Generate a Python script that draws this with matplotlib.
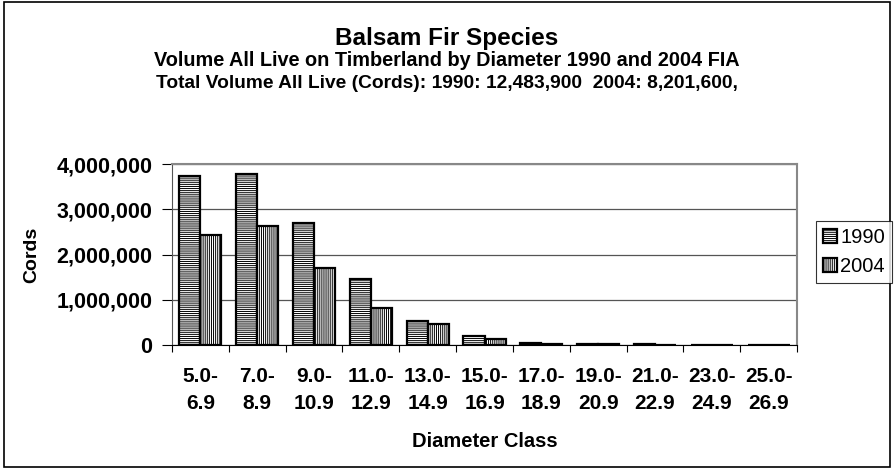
import matplotlib.pyplot as plt
import numpy as np
from matplotlib.patches import Rectangle

plt.rcParams['font.family'] = ['Liberation Sans', 'DejaVu Sans']
plt.rcParams['hatch.linewidth'] = 0.7

classes = ["5.0-\n6.9", "7.0-\n8.9", "9.0-\n10.9", "11.0-\n12.9", "13.0-\n14.9", "15.0-\n16.9",
           "17.0-\n18.9", "19.0-\n20.9", "21.0-\n22.9", "23.0-\n24.9", "25.0-\n26.9"]
vol_1990 = [3740000, 3780000, 2690000, 1460000, 520000, 190000, 50000, 30000, 15000, 0, 0]
vol_2004 = [2420000, 2620000, 1700000, 810000, 470000, 130000, 25000, 15000, 5000, 0, 0]
yticks = [0, 1000000, 2000000, 3000000, 4000000]

fig = plt.figure(figsize=(8.94, 4.7), dpi=100)
fig.patches.append(Rectangle((0.004, 0.006), 0.992, 0.99, transform=fig.transFigure,
                             fill=False, edgecolor='black', linewidth=1.2))
ax = fig.add_axes([172/894, 1-345/470, (797-172)/894, (345-164)/470])

x = np.arange(len(classes))
w = 0.37
ax.bar(x - w/2, vol_1990, w, facecolor='white', edgecolor='black', hatch='--------',
       linewidth=1.6, label='1990')
ax.bar(x + w/2, vol_2004, w, facecolor='white', edgecolor='black', hatch='||||||||',
       linewidth=1.6, label='2004')

ax.set_xlim(-0.5, len(classes) - 0.5)
ax.set_ylim(0, 4000000)
ax.set_yticks(yticks)
ax.set_yticklabels([f"{v:,}" for v in yticks], fontsize=15.5, fontweight='bold')
ax.yaxis.grid(True, color='#555555', linewidth=0.9)
ax.set_axisbelow(True)

ax.set_xticks(np.arange(len(classes) + 1) - 0.5)
ax.set_xticklabels([])
ax.set_xticks(x, minor=True)
ax.set_xticklabels(classes, minor=True, fontsize=15, fontweight='bold', linespacing=1.5)
ax.tick_params(axis='x', which='minor', length=0, pad=16)
ax.tick_params(axis='x', which='major', length=5, direction='out', color='black')
ax.tick_params(axis='y', length=7, direction='out', pad=7)

for s in ['top', 'right']:
    ax.spines[s].set_color('#888888')
    ax.spines[s].set_linewidth(1.5)
ax.spines['left'].set_color('#555555')
ax.spines['bottom'].set_color('black')

ax.set_ylabel("Cords", fontsize=14, fontweight='bold', labelpad=12)
ax.set_xlabel("Diameter Class", fontsize=14.5, fontweight='bold', labelpad=14)

fig.text(0.5, 1-38/470, "Balsam Fir Species", ha='center', va='center', fontsize=17.5, fontweight='bold')
fig.text(0.5, 1-61/470, "Volume All Live on Timberland by Diameter 1990 and 2004 FIA",
         ha='center', va='center', fontsize=14.3, fontweight='bold')
fig.text(0.5, 1-83/470, "Total Volume All Live (Cords): 1990: 12,483,900  2004: 8,201,600,",
         ha='center', va='center', fontsize=13.8, fontweight='bold')

leg = fig.legend(loc='center left', bbox_to_anchor=(816/894, 1-252/470), fontsize=14.5,
                 frameon=True, fancybox=False, edgecolor='black', handlelength=0.7,
                 handleheight=0.7, handletextpad=0.15, borderpad=0.35, labelspacing=0.5,
                 borderaxespad=0)
leg.get_frame().set_linewidth(0.8)

fig.savefig("out.png", dpi=100)
